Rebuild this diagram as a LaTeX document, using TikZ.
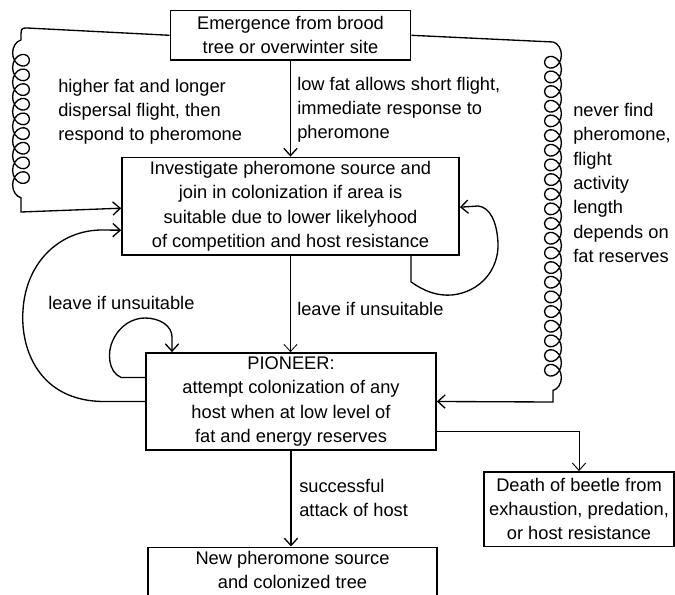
\documentclass[tikz,border=0pt]{standalone}
\usepackage{fontspec}
\setmainfont{Liberation Sans}
\usetikzlibrary{arrows.meta,calc,decorations.pathmorphing}
\begin{document}
\begin{tikzpicture}[x=0.75pt,y=-0.75pt,
  every node/.style={font=\fontsize{13.7}{18.2}\selectfont},
  box/.style={draw,line width=1.3pt,align=center,inner sep=0pt},
  lbl/.style={align=left,anchor=west,inner sep=0pt},
  conn/.style={line width=1pt},
  arr/.style={conn,-{Straight Barb[length=5.5pt,width=10pt]}},
  coilL/.style={decoration={coil,amplitude=6.3pt,segment length=11pt,aspect=1.1,mirror}},
  coilR/.style={decoration={coil,amplitude=6.3pt,segment length=11pt,aspect=1.1}},
]
\useasboundingbox (0,0) rectangle (675,595);
% boxes
\node[box,minimum width=180pt,minimum height=37pt] (emerge) at (290.5,35.3) {Emergence from brood\\tree or overwinter site};
\node[box,minimum width=252.75pt,minimum height=73.1pt] (invest) at (290.5,206.2) {Investigate pheromone source and\\join in colonization if area is\\suitable due to lower likelyhood\\of competition and host resistance};
\node[box,minimum width=217.5pt,minimum height=72.75pt] (pioneer) at (291,401.5) {PIONEER:\\attempt colonization of any\\host when at low level of\\fat and energy reserves};
\node[box,minimum width=142.5pt,minimum height=55.9pt] (death) at (579,509.2) {Death of beetle from\\exhaustion, predation,\\or host resistance};
\node[box,anchor=north,minimum width=216.75pt,text depth=40pt,inner ysep=3pt] (new) at (292.5,546.5) {New pheromone source\\and colonized tree};
% labels
\node[lbl] (la) at (58,112) {higher fat and longer\\dispersal flight, then\\respond to pheromone};
\node[lbl] (lb) at (297,110) {low fat allows short flight,\\immediate response to\\pheromone};
\node[lbl] (lc) at (573,183) {never find\\pheromone,\\flight\\activity\\length\\depends on\\fat reserves};
\node[lbl] (ld) at (48,303) {leave if unsuitable};
\node[lbl] (le) at (297,309) {leave if unsuitable};
\node[lbl] (lf) at (299,498) {successful\\attack of host};
% coordinates
\coordinate (cl0) at (27,28);
\coordinate (cl1) at (21,40);
\coordinate (cl2) at (21,212);
\coordinate (cr1) at (553,42);
\coordinate (cr2) at (553,402);
% connectors
\draw[arr] (emerge) -- (invest);
\draw[arr,line width=0.6pt] (invest.south) -- (invest.south |- pioneer.north);
\draw[arr] (pioneer.south) -- (pioneer.south |- new.north);
\draw[arr] (emerge.west) -- (cl0) .. controls (21,28) .. (cl1) decorate[coilL]{-- (cl2)} -- ($(invest.west)+(0,2)$);
\draw[arr] (emerge.east) -- (cr1) decorate[coilR]{-- (cr2)} -- (pioneer.east);
\draw[arr] (pioneer.west) -- ++(-40,0) .. controls (40,402) and (20,350) .. (23,310) .. controls (26,262) and (60,230) .. (102,230) -- ($(invest.west)+(0,24)$);
\draw[arr] ($(pioneer.west)+(0,-24)$) -- ++(-24,0) .. controls (108,372) and (107,352) .. (113,340) .. controls (120,325) and (133,318) .. (145,318) .. controls (160,318) and (172,326) .. (172,337) -- ($(pioneer.north)+(-119,0)$);
\draw[arr] ($(invest.south)+(120.5,0)$) -- ++(0,26) .. controls (425,292) and (438,296) .. (452,295) .. controls (480,292) and (499,270) .. (498,243) .. controls (497,222) and (490,207) .. (478,206) -- ($(invest.east)+(0,1)$);
\draw[arr,line width=0.7pt] ($(pioneer.east)+(0,29.5)$) -| (death.north);
\end{tikzpicture}
\end{document}
